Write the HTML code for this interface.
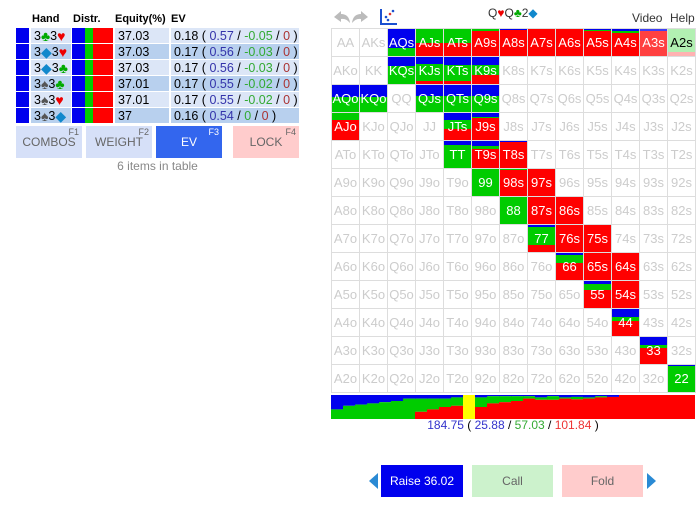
<!DOCTYPE html>
<html><head><meta charset="utf-8"><style>
body{margin:0;width:700px;height:511px;background:#fff;font-family:"Liberation Sans",sans-serif;position:relative;overflow:hidden}
.a{position:absolute}
.hdr{font-size:11px;font-weight:bold;color:#000;top:13px}
.cell{position:absolute;font-size:12.5px;display:flex;align-items:center;padding-left:3px;box-sizing:border-box;height:15px}
.su{font-size:14px;line-height:12px}
.btn{position:absolute;display:flex;align-items:center;justify-content:center;font-size:12px;color:#666}
.fk{position:absolute;right:3px;top:1px;font-size:9px;color:#666}
.g{position:absolute;box-sizing:border-box;border:1px solid #ddd;overflow:hidden}
.g span{position:absolute;left:0;right:0;top:0;bottom:0;display:flex;align-items:center;justify-content:center;font-size:13px}
</style></head><body>
<div class="a hdr" style="left:32px">Hand</div>
<div class="a hdr" style="left:73px">Distr.</div>
<div class="a hdr" style="left:115px">Equity(%)</div>
<div class="a hdr" style="left:171px">EV</div>
<div id="tbl"></div>
<div class="btn" style="left:16px;top:126px;width:66px;height:32px;background:#d6e0f8">COMBOS<span class="fk">F1</span></div>
<div class="btn" style="left:86px;top:126px;width:66px;height:32px;background:#d6e0f8">WEIGHT<span class="fk">F2</span></div>
<div class="btn" style="left:156px;top:126px;width:66px;height:32px;background:#3366ee;color:#fff">EV<span class="fk" style="color:#fff">F3</span></div>
<div class="btn" style="left:233px;top:126px;width:66px;height:32px;background:#ffcccc">LOCK<span class="fk">F4</span></div>
<div class="a" style="left:16px;width:283px;top:159px;text-align:center;font-size:12px;color:#888">6 items in table</div>

<svg class="a" style="left:332px;top:8px" width="40" height="18"><path d="M2 9 L9 3 L9 6 Q17 6 18 15 Q14 10 9 11 L9 14 Z" fill="#bbb"/><path d="M36 9 L29 3 L29 6 Q21 6 20 15 Q24 10 29 11 L29 14 Z" fill="#bbb"/></svg>
<svg class="a" style="left:378px;top:7px" width="20" height="20"><path d="M3 2 V17 H19" stroke="#1a4fd0" stroke-width="2" fill="none"/><circle cx="8" cy="10" r="1.3" fill="#1a4fd0"/><circle cx="12" cy="7" r="1.3" fill="#d33"/><circle cx="15" cy="4" r="1.3" fill="#1a4fd0"/><circle cx="10" cy="13" r="1.3" fill="#1a4fd0"/></svg>
<div class="a" style="left:488px;top:6px;font-size:12px;color:#333">Q<span style="color:#e00">♥</span>Q<span style="color:#0a0">♣</span>2<span style="color:#18c">◆</span></div>
<div class="a" style="left:632px;top:11px;font-size:12px;color:#333">Video</div>
<div class="a" style="left:670px;top:11px;font-size:12px;color:#333">Help</div>
<div id="grid"></div>
<svg id="bar" class="a" style="left:331px;top:395px" width="364" height="24"></svg>
<div class="a" style="left:331px;width:364px;top:418px;text-align:center;font-size:12px"><span style="color:#33c">184.75</span> ( <span style="color:#33c">25.88</span> / <span style="color:#3a3">57.03</span> / <span style="color:#e33">101.84</span> )</div>
<div class="a" style="left:369px;top:473px;width:0;height:0;border-top:8px solid transparent;border-bottom:8px solid transparent;border-right:9px solid #2a8ad4"></div>
<div class="btn" style="left:381px;top:465px;width:82px;height:32px;background:#0000ee;color:#fff">Raise 36.02</div>
<div class="btn" style="left:472px;top:465px;width:81px;height:32px;background:#ccf2cc">Call</div>
<div class="btn" style="left:562px;top:465px;width:81px;height:32px;background:#ffcccc">Fold</div>
<div class="a" style="left:647px;top:473px;width:0;height:0;border-top:8px solid transparent;border-bottom:8px solid transparent;border-left:9px solid #2a8ad4"></div>
<script>
const hands=[['3','♣','3','♥'],['3','◆','3','♥'],['3','◆','3','♣'],['3','♠','3','♣'],['3','♠','3','♥'],['3','♠','3','◆']];
const equities=['37.03','37.03','37.03','37.01','37.01','37'];
const evTot=['0.18','0.17','0.17','0.17','0.17','0.16'];
const evRaise=['0.57','0.56','0.56','0.55','0.55','0.54'];
const evCall=['-0.05','-0.03','-0.03','-0.02','-0.02','0'];
const suitCol={'♣':'#0a0','♥':'#e00','◆':'#18c','♠':'#555'};
const tbl=document.getElementById('tbl');
hands.forEach((h,i)=>{
  const y=28+i*16, bg=i%2?'#b8d0ee':'#dce6f7';
  const row=document.createElement('div');
  
  
  row.innerHTML=`<div class="cell" style="left:16px;top:${y}px;width:13px;background:#00e"></div>
<div class="cell" style="left:31px;top:${y}px;width:40px;background:${bg}">${h[0]}<span class="su" style="color:${suitCol[h[1]]}">${h[1]}</span>${h[2]}<span class="su" style="color:${suitCol[h[3]]}">${h[3]}</span></div>
<div class="cell" style="left:72px;top:${y}px;width:13px;background:#00e"></div><div class="cell" style="left:85px;top:${y}px;width:8px;background:#0c0"></div><div class="cell" style="left:93px;top:${y}px;width:20px;background:#f00"></div>
<div class="cell" style="left:115px;top:${y}px;width:54px;background:${bg}">${equities[i]}</div>
<div class="cell" style="left:171px;top:${y}px;width:128px;background:${bg}">${evTot[i]}&nbsp;(&nbsp;<span style="color:#33a">${evRaise[i]}</span>&nbsp;/&nbsp;<span style="color:#3a3">${evCall[i]}</span>&nbsp;/&nbsp;<span style="color:#a33">0</span>&nbsp;)</div>`;
  tbl.appendChild(row);
});
const ranks=['A','K','Q','J','T','9','8','7','6','5','4','3','2'];
const strat={AQs:[.7,.3,0],AJs:[0,.5,.5],ATs:[0,.5,.5],A9s:[0,.06,.94],A8s:[.04,0,.96],A7s:[0,0,1],A6s:[0,0,1],A5s:[.04,.05,.91],A4s:[.09,.04,.87],A3s:[.09,0,.91],A2s:[0,.85,.15],
KQs:[.35,.65,0],KJs:[.25,.65,.1],KTs:[.3,.6,.1],K9s:[.3,.35,.35],AQo:[.45,.55,0],KQo:[.45,.55,0],QJs:[.4,.6,0],QTs:[.4,.6,0],Q9s:[.4,.6,0],
AJo:[0,.25,.75],JTs:[.25,.35,.4],J9s:[.15,.05,.8],TT:[.15,.85,0],T9s:[.2,.1,.7],T8s:[.05,0,.95],'99':[0,1,0],'98s':[0,.03,.97],'97s':[0,0,1],
'88':[0,1,0],'87s':[0,0,1],'86s':[0,0,1],'77':[.06,.67,.27],'76s':[0,0,1],'75s':[0,0,1],'66':[.06,.3,.64],'65s':[0,0,1],'64s':[0,0,1],
'55':[.12,.2,.68],'54s':[0,0,1],'44':[.28,.18,.54],'33':[.3,.12,.58],'22':[.05,.95,0]};
const faded={A3s:.75,A2s:.3};
const grid=document.getElementById('grid');
const CW=28,X0=331,Y0=28;
for(let r=0;r<13;r++)for(let c=0;c<13;c++){
  const n=r==c?ranks[r]+ranks[c]:(c>r?ranks[r]+ranks[c]+'s':ranks[c]+ranks[r]+'o');
  const d=document.createElement('div');d.className='g';
  
  
  d.style.left=(X0+c*CW)+'px';d.style.top=(Y0+r*CW)+'px';d.style.width=(CW+1)+'px';d.style.height=(CW+1)+'px';
  const s=strat[n];let html='';
  if(s){const op=faded[n]||1;let y=0;const cols=['#00e','#0c0','#f00'];
    s.forEach((f,k)=>{if(f>0){html+=`<div style="position:absolute;left:0;right:0;top:${y*100}%;height:${f*100}%;background:${cols[k]};opacity:${op}"></div>`;y+=f;}});
  }
  const tc=s?(faded[n]&&faded[n]<.5?'#000':'#fff'):'#ccc';
  html+=`<span style="color:${tc}">${n}</span>`;
  d.innerHTML=html;grid.appendChild(d);
}
const barRaise=[.6,.45,.4,.35,.3,.25,.15,.15,.15,.15,.1,0,.1,.05,.05,.05,.05,.1,.05,.1,.08,.1,.05,.08,0,0,0,0,0,0];
const barCall=[.4,.55,.6,.65,.7,.75,.85,.55,.45,.35,.35,0,.4,.3,.25,.2,.1,.1,.15,.05,.1,.05,.05,0,0,0,0,0,0,0];
const barYellow=11;
const bar=document.getElementById('bar');const BW=12,BH=24;let bx=0;
barRaise.forEach((b,i)=>{
  const w=BW;
  if(i===barYellow){const rc=document.createElementNS('http://www.w3.org/2000/svg','rect');rc.setAttribute('x',bx);rc.setAttribute('y',0);rc.setAttribute('width',w);rc.setAttribute('height',BH);rc.setAttribute('fill','#ff0');
    
    
    bar.appendChild(rc);bx+=w;return;}
  const fr=[b,barCall[i],1-b-barCall[i]];let y=0;
  ['#00e','#0c0','#f00'].forEach((col,k)=>{const rc=document.createElementNS('http://www.w3.org/2000/svg','rect');
    rc.setAttribute('x',bx);rc.setAttribute('y',y*BH);rc.setAttribute('width',w+0.5);rc.setAttribute('height',fr[k]*BH);rc.setAttribute('fill',col);
    
    
    bar.appendChild(rc);y+=fr[k];});
  bx+=w;
});
const fill=document.createElementNS('http://www.w3.org/2000/svg','rect');fill.setAttribute('x',bx);fill.setAttribute('y',0);fill.setAttribute('width',364-bx);fill.setAttribute('height',BH);fill.setAttribute('fill','#f00');


bar.appendChild(fill);
</script>
</body></html>
